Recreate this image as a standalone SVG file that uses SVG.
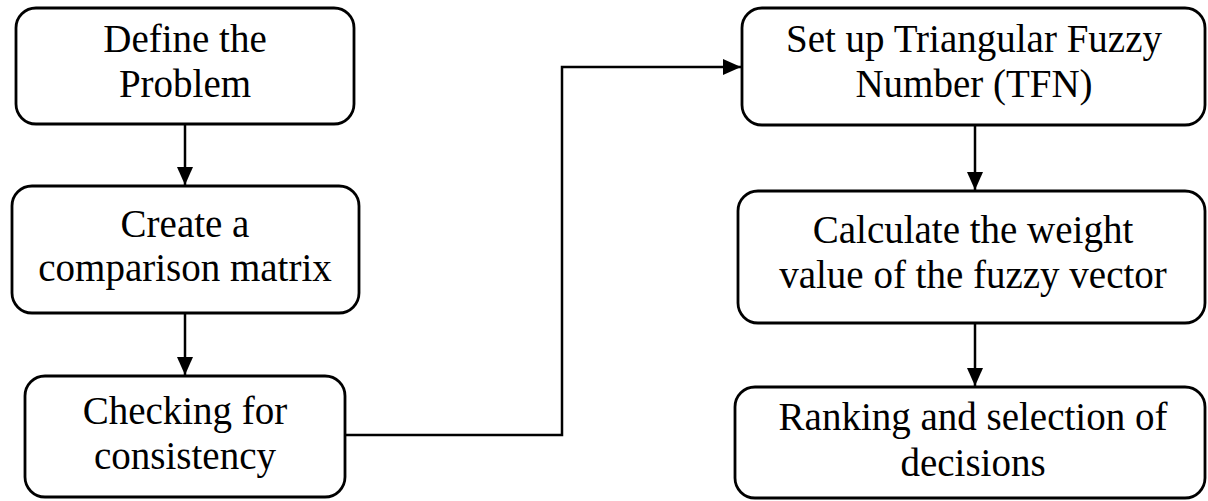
<svg xmlns="http://www.w3.org/2000/svg" width="1208" height="501" viewBox="0 0 1208 501">
  <style>
    .box { fill: #ffffff; stroke: #000000; stroke-width: 2.8; }
    .label { font-family: "Liberation Serif", "DejaVu Serif", serif; font-size: 39px; fill: #000000; text-anchor: middle; }
    .wire { fill: none; stroke: #000000; stroke-width: 2.5; }
  </style>
  <defs>
    <marker id="arrow" markerUnits="userSpaceOnUse" markerWidth="19" markerHeight="18" refX="18" refY="9" orient="auto">
      <path d="M0,1 L18,9 L0,17 Z" fill="#000000"/>
    </marker>
  </defs>
  <rect width="1208" height="501" fill="#ffffff"/>

  <g id="connectors">
    <path class="wire" d="M185,124 L185,185" marker-end="url(#arrow)"/>
    <path class="wire" d="M185,313 L185,375" marker-end="url(#arrow)"/>
    <path class="wire" d="M345,435 L562,435 L562,67 L741,67" marker-end="url(#arrow)"/>
    <path class="wire" d="M975,125 L975,190" marker-end="url(#arrow)"/>
    <path class="wire" d="M975,323 L975,386" marker-end="url(#arrow)"/>
  </g>

  <g id="define-problem">
    <rect class="box" x="16" y="8" width="338" height="116" rx="20"/>
    <text class="label" x="185" y="52">Define the</text>
    <text class="label" x="185" y="97">Problem</text>
  </g>

  <g id="comparison-matrix">
    <rect class="box" x="12" y="186" width="347" height="127" rx="20"/>
    <text class="label" x="185" y="237">Create a</text>
    <text class="label" x="185" y="281">comparison matrix</text>
  </g>

  <g id="consistency">
    <rect class="box" x="25" y="376" width="320" height="121" rx="20"/>
    <text class="label" x="185" y="424">Checking for</text>
    <text class="label" x="185" y="469">consistency</text>
  </g>

  <g id="tfn">
    <rect class="box" x="742" y="8" width="463" height="117" rx="20"/>
    <text class="label" x="974" y="52">Set up Triangular Fuzzy</text>
    <text class="label" x="974" y="97">Number (TFN)</text>
  </g>

  <g id="weight-vector">
    <rect class="box" x="738" y="191" width="467" height="132" rx="20"/>
    <text class="label" x="973" y="243">Calculate the weight</text>
    <text class="label" x="973" y="288">value of the fuzzy vector</text>
  </g>

  <g id="ranking">
    <rect class="box" x="735" y="387" width="470" height="111" rx="20"/>
    <text class="label" x="973" y="430">Ranking and selection of</text>
    <text class="label" x="973" y="476">decisions</text>
  </g>
</svg>
